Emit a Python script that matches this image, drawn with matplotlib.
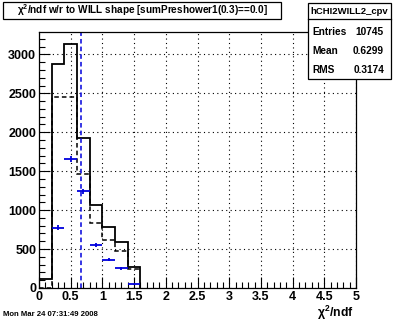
import numpy as np
import matplotlib
matplotlib.use("Agg")
import matplotlib.pyplot as plt
from matplotlib.ticker import MultipleLocator
from matplotlib.patches import Rectangle

plt.rcParams['font.family'] = ['Liberation Sans', 'DejaVu Sans']
plt.rcParams['mathtext.fontset'] = 'custom'
plt.rcParams['mathtext.rm'] = 'Liberation Sans:bold'
plt.rcParams['mathtext.it'] = 'Liberation Sans:bold'
plt.rcParams['mathtext.bf'] = 'Liberation Sans:bold'
plt.rcParams['mathtext.default'] = 'rm'

# Data
bin_edges = [0.0, 0.2, 0.4, 0.6, 0.8, 1.0, 1.2, 1.4, 1.6]
solid_counts = [110, 2870, 3130, 1930, 1060, 780, 590, 266]
dashed_counts = [0, 2450, 2450, 1460, 835, 622, 474, 240]
blue_x = [0.3, 0.5, 0.7, 0.9, 1.1, 1.3, 1.5]
blue_y = [775, 1660, 1240, 551, 360, 253, 48]
blue_yerr = [28, 41, 35, 23, 19, 16, 7]
mean_line = 0.668

title = "χ$^{2}$/ndf w/r to WILL shape [sumPreshower1(0.3)==0.0]"
stats_name = "hCHI2WILL2_cpv"
stats_rows = [("Entries", "10745"), ("Mean", "0.6299"), ("RMS", "0.3174")]
footer = "Mon Mar 24 07:31:49 2008"
xlabel = "χ$^{2}$/ndf"
xtick_vals = [0, 0.5, 1, 1.5, 2, 2.5, 3, 3.5, 4, 4.5, 5]
xtick_labels = ['0', '0.5', '1', '1.5', '2', '2.5', '3', '3.5', '4', '4.5', '5']
ytick_vals = [0, 500, 1000, 1500, 2000, 2500, 3000]

W, H = 396, 322
fig = plt.figure(figsize=(W / 100, H / 100), dpi=100)
fig.patch.set_facecolor('white')

def fx(px):
    return px / W

def fy(py):
    return 1 - py / H

ax = fig.add_axes([fx(39), fy(288), fx(356) - fx(39), fy(32) - fy(288)])
ax.set_xlim(0, 5)
ax.set_ylim(0, 3287)

ax.grid(True, which='major', color='black', linestyle=(0, (1, 3)), linewidth=0.8)
ax.set_axisbelow(True)

edges = np.array(bin_edges)
ax.stairs(solid_counts, edges, color='black', linewidth=1.3, baseline=0)
ax.stairs(dashed_counts, edges, color='black', linewidth=1.1, linestyle=(0, (3, 2)), baseline=None)

ax.errorbar(blue_x, blue_y, xerr=0.1, yerr=blue_yerr, fmt='none', ecolor='#0000dd',
            elinewidth=1.3, capsize=0)
ax.axvline(mean_line, color='#0000dd', linestyle=(0, (3, 2)), linewidth=1.1)

ax.xaxis.set_minor_locator(MultipleLocator(0.1))
ax.yaxis.set_minor_locator(MultipleLocator(100))
ax.set_xticks(xtick_vals)
ax.set_xticklabels(xtick_labels, fontweight='bold', fontsize=9)
ax.set_yticks(ytick_vals)
ax.set_yticklabels([str(v) for v in ytick_vals], fontweight='bold', fontsize=9)
ax.tick_params(axis='both', which='major', direction='in', length=8, width=0.8, pad=2)
ax.tick_params(axis='both', which='minor', direction='in', length=4, width=0.8)
ax.tick_params(axis='x', which='both', top=False)
ax.tick_params(axis='y', which='both', right=False)
for s in ax.spines.values():
    s.set_linewidth(0.9)

# Title box
fig.patches.append(Rectangle((fx(3), fy(19)), fx(281) - fx(3), fy(2) - fy(19),
                             transform=fig.transFigure, fill=True, facecolor='white',
                             edgecolor='black', linewidth=0.9, zorder=5))
fig.text(fx(142), fy(10.5), title, ha='center', va='center', fontsize=7.2,
         fontweight='bold', zorder=6)

# Stats box
fig.patches.append(Rectangle((fx(308), fy(79)), fx(391) - fx(308), fy(3) - fy(79),
                             transform=fig.transFigure, fill=True, facecolor='white',
                             edgecolor='black', linewidth=0.9, zorder=5))
fig.add_artist(plt.Line2D([fx(308), fx(391)], [fy(19), fy(19)], transform=fig.transFigure,
                          color='black', lw=0.9, zorder=6))
fig.text(fx(349.5), fy(11.5), stats_name, ha='center', va='center', fontsize=6.8,
         fontweight='bold', zorder=6)
for i, (k, v) in enumerate(stats_rows):
    yy = fy(32 + 19 * i)
    fig.text(fx(312), yy, k, ha='left', va='center', fontsize=7.3, fontweight='bold', zorder=6)
    fig.text(fx(384), yy, v, ha='right', va='center', fontsize=7.3, fontweight='bold', zorder=6)

fig.text(fx(3), fy(315), footer, ha='left', va='center', fontsize=5.6, fontweight='bold')
fig.text(fx(354), fy(313), xlabel, ha='right', va='center', fontsize=8.8, fontweight='bold')

fig.savefig('out.png', dpi=100)
